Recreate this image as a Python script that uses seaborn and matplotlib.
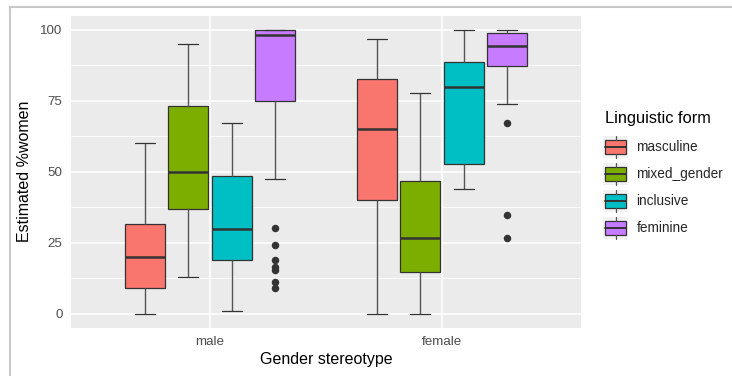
import matplotlib
matplotlib.use("Agg")
import matplotlib.pyplot as plt
import numpy as np
import pandas as pd
import seaborn as sns
from matplotlib.legend_handler import HandlerBase
from matplotlib.lines import Line2D
from matplotlib.patches import Patch, Rectangle

# Box summaries: (lower whisker, q1, median, q3, upper whisker)
stereotypes = ["male", "female"]
forms = ["masculine", "mixed_gender", "inclusive", "feminine"]
colors = ["#F8766D", "#7CAE00", "#00BFC4", "#C77CFF"]

male_masculine = (0, 9, 20, 31.5, 60)
male_mixed = (13, 36.7, 50, 73, 95)
male_inclusive = (1, 18.8, 29.8, 48.6, 67)
male_feminine = (47.3, 75, 98.3, 100, 100)
male_feminine_outliers = [30, 24, 19, 16.3, 15.3, 11, 9]

female_masculine = (0, 40, 65.2, 82.8, 96.8)
female_mixed = (0, 14.8, 26.8, 46.6, 77.8)
female_inclusive = (44, 52.8, 80, 88.8, 100)
female_feminine = (74, 87.3, 94.3, 98.8, 100)
female_feminine_outliers = [67, 34.6, 26.8]

summaries = {
    ("male", "masculine"): (male_masculine, []),
    ("male", "mixed_gender"): (male_mixed, []),
    ("male", "inclusive"): (male_inclusive, []),
    ("male", "feminine"): (male_feminine, male_feminine_outliers),
    ("female", "masculine"): (female_masculine, []),
    ("female", "mixed_gender"): (female_mixed, []),
    ("female", "inclusive"): (female_inclusive, []),
    ("female", "feminine"): (female_feminine, female_feminine_outliers),
}


def sample_from_summary(summary, outliers):
    # 4k+1 values so np.percentile lands exactly on q1 / median / q3
    lo, q1, med, q3, hi = summary
    below = sorted(o for o in outliers if o < q1)
    above = sorted(o for o in outliers if o > q3)
    k = max(len(below), len(above)) + 1
    low_part = below + [lo] * (k - len(below))
    high_part = [hi] * (k - len(above)) + above
    return low_part + [q1] * k + [med] * k + [q3] + high_part


rows = []
for (ster, form), (summ, outs) in summaries.items():
    for v in sample_from_summary(summ, outs):
        rows.append({"stereotype": ster, "form": form, "estimate": v})
df = pd.DataFrame(rows)

sns.set_theme(style="darkgrid")
plt.rcParams["font.family"] = ["Liberation Sans", "DejaVu Sans"]
plt.rcParams.update({
    "axes.facecolor": "#EBEBEB",
    "grid.color": "white",
    "axes.edgecolor": "none",
})

fig = plt.figure(figsize=(7.32, 3.76), dpi=100)
ax = fig.add_axes([71 / 732, 1 - 327.7 / 376, 510 / 732, 312 / 376])

line_col = "#333333"
sns.boxplot(
    data=df, x="stereotype", y="estimate", hue="form",
    order=stereotypes, hue_order=forms, palette=colors,
    width=0.75, gap=0.08, linecolor=line_col, linewidth=0.9,
    saturation=1, legend=False, ax=ax,
    medianprops=dict(color=line_col, linewidth=1.8),
    whiskerprops=dict(color="#555555", linewidth=1.0),
    flierprops=dict(marker="o", markerfacecolor=line_col,
                    markeredgecolor=line_col, markersize=4.4),
)

ax.set_xlim(-0.6, 1.6)
ax.set_ylim(-5, 105)
ax.set_yticks([0, 25, 50, 75, 100])
ax.set_yticks([12.5, 37.5, 62.5, 87.5], minor=True)
ax.grid(True, which="major", color="white", linewidth=1.1)
ax.grid(True, which="minor", axis="y", color="white", linewidth=0.55)
ax.set_axisbelow(True)
ax.tick_params(axis="both", which="major", length=3, width=0.9, color=line_col,
               labelsize=9.6, labelcolor="#4D4D4D", pad=3)
ax.tick_params(axis="y", which="minor", length=0)
ax.set_xlabel("Gender stereotype", fontsize=11.5, color="black", labelpad=3)
ax.set_ylabel("Estimated %women", fontsize=11.5, color="black", labelpad=6)


class BoxKeyHandler(HandlerBase):
    def create_artists(self, legend, orig_handle, xdescent, ydescent,
                       width, height, fontsize, trans):
        fc = orig_handle.get_facecolor()
        x0, y0 = -xdescent, -ydescent
        bg = Rectangle((x0, y0), width, height, fc="#F2F2F2", ec="none", transform=trans)
        bw, bh = width * 0.82, height * 0.58
        bx, by = x0 + (width - bw) / 2, y0 + (height - bh) / 2
        box = Rectangle((bx, by), bw, bh, fc=fc, ec=line_col, lw=0.9, transform=trans)
        cx, cy = bx + bw / 2, by + bh / 2
        med = Line2D([bx, bx + bw], [cy, cy], color=line_col, lw=1.4, transform=trans)
        wt = Line2D([cx, cx], [by + bh, y0 + height], color="#555555", lw=0.9, transform=trans)
        wb = Line2D([cx, cx], [y0, by], color="#555555", lw=0.9, transform=trans)
        return [bg, box, med, wt, wb]


fig.text(605 / 732, 1 - 118 / 376, "Linguistic form", fontsize=11.8,
         ha="left", va="center", color="black")
handles = [Patch(facecolor=c, label=f) for c, f in zip(colors, forms)]
leg = fig.legend(
    handles=handles, loc="upper left", bbox_to_anchor=(603 / 732, 1 - 135.5 / 376),
    frameon=False, fontsize=9.8,
    handlelength=1.85, handleheight=2.2, labelspacing=0.31, handletextpad=0.6,
    borderpad=0, borderaxespad=0,
    handler_map={Patch: BoxKeyHandler()},
)

# screenshot frame lines (top and left)
fig.add_artist(Line2D([10 / 732, 1], [1 - 7 / 376, 1 - 7 / 376], transform=fig.transFigure,
                      color="#C8C8C8", lw=1.5))
fig.add_artist(Line2D([10 / 732, 10 / 732], [0, 1 - 7 / 376], transform=fig.transFigure,
                      color="#C8C8C8", lw=1.5))

fig.savefig("out.png", dpi=100)
